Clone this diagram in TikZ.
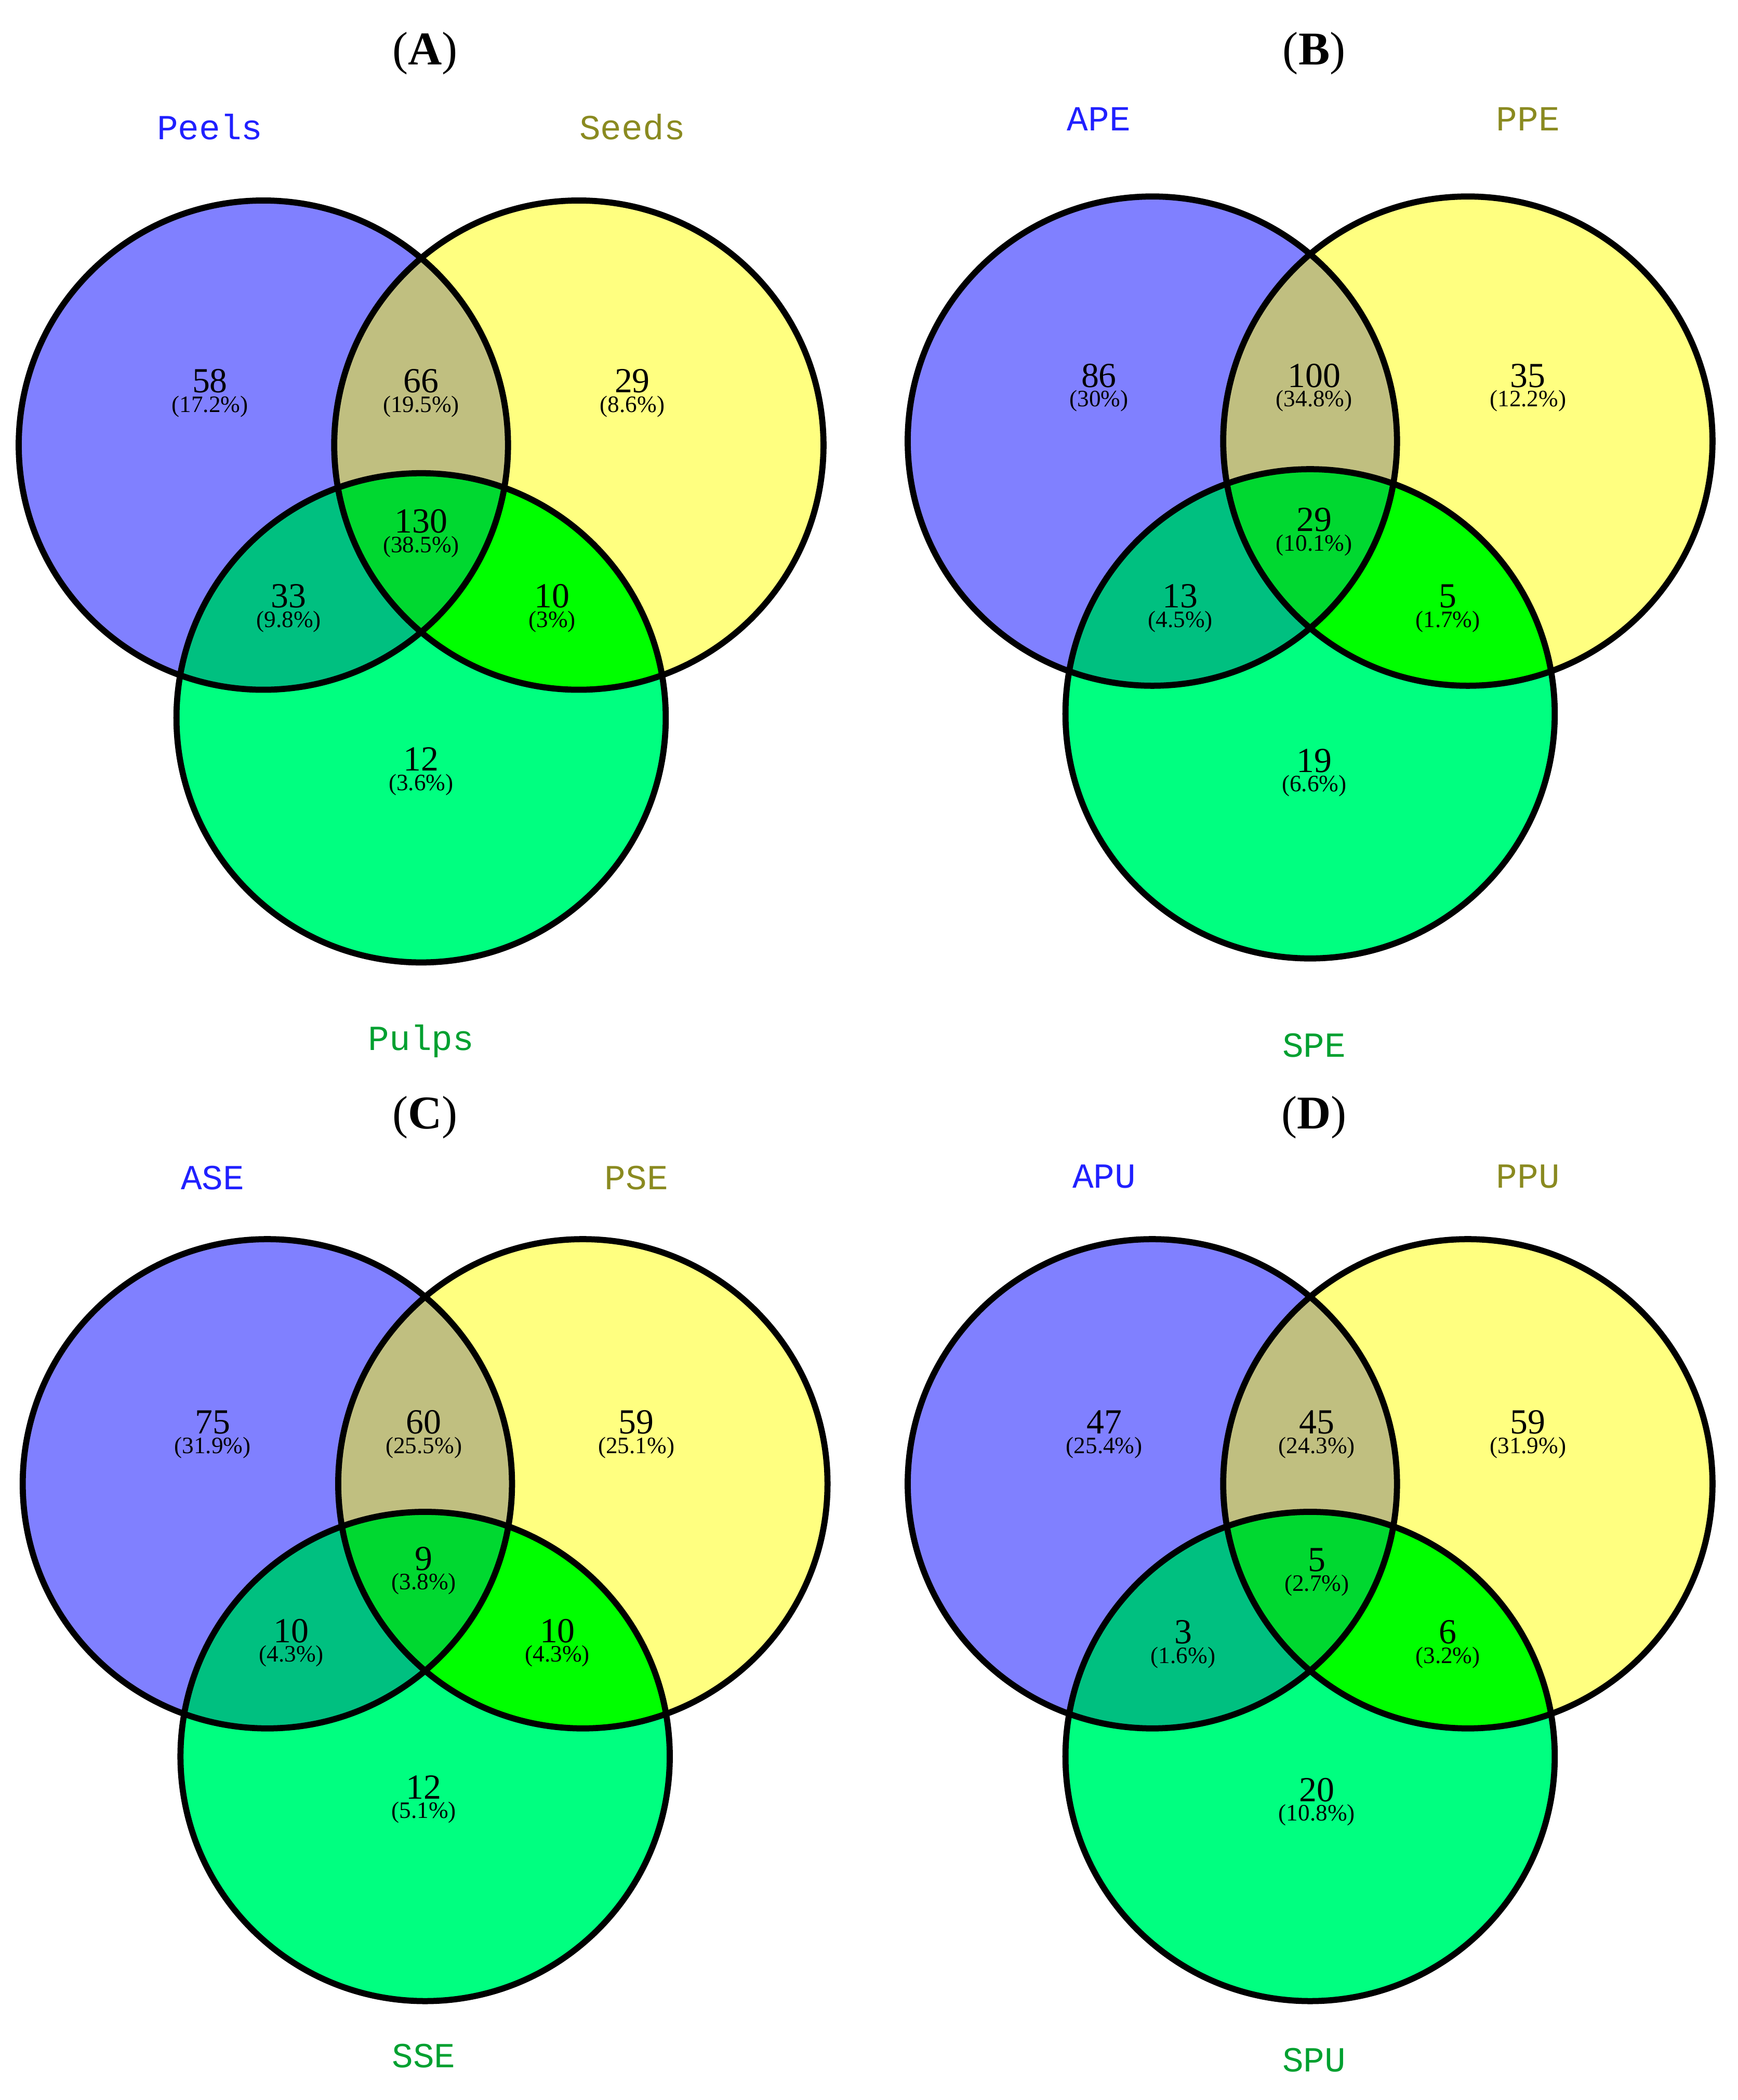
\documentclass[tikz,border=0pt]{standalone}
\usepackage{fontspec}
\setmainfont{Liberation Serif}
\newfontfamily\labfont{Liberation Mono}
\definecolor{cB}{HTML}{8080FF}
\definecolor{cY}{HTML}{FFFF80}
\definecolor{cG}{HTML}{00FF80}
\definecolor{cBY}{HTML}{C0BF80}
\definecolor{cBG}{HTML}{00C080}
\definecolor{cYG}{HTML}{00FF00}
\definecolor{cBYG}{HTML}{00D830}
\definecolor{tB}{HTML}{2020FF}
\definecolor{tY}{HTML}{8A8A20}
\definecolor{tG}{HTML}{00A030}
\tikzset{
  ring/.style={circle,draw=black,line width=1.3pt,minimum size=3.66cm,inner sep=0pt},
  num/.style={font=\fontsize{7.5}{8}\selectfont,inner sep=0pt},
  pct/.style={font=\fontsize{5}{6}\selectfont,inner sep=0pt},
  ttl/.style={font=\fontsize{10}{11}\selectfont,inner sep=0pt},
}
\newcommand{\vennpanel}[3]{%
 \begin{scope}[shift={(#1,#2)}]
  \fill[cB] (1.97,-3.33) circle (1.83);
  \fill[cY] (4.33,-3.33) circle (1.83);
  \fill[cG] (3.15,-5.37) circle (1.83);
  \begin{scope}\clip (1.97,-3.33) circle (1.83); \fill[cBY] (4.33,-3.33) circle (1.83); \fill[cBG] (3.15,-5.37) circle (1.83);\end{scope}
  \begin{scope}\clip (4.33,-3.33) circle (1.83); \fill[cYG] (3.15,-5.37) circle (1.83);\end{scope}
  \begin{scope}\clip (1.97,-3.33) circle (1.83); \clip (4.33,-3.33) circle (1.83); \fill[cBYG] (3.15,-5.37) circle (1.83);\end{scope}
  \node[ring] (#3b) at (1.97,-3.33) {};
  \node[ring] (#3y) at (4.33,-3.33) {};
  \node[ring] (#3g) at (3.15,-5.37) {};
 \end{scope}}
\newcommand{\vnum}[5]{\node[num] (#1) at (#2,#3) {#4}; \node[pct] (#1p) at (#2,#3-0.19) {(#5)};}
\begin{document}
\begin{tikzpicture}
\useasboundingbox (0,0) rectangle (13,-15.71);
\vennpanel{0}{0}{A}
\vennpanel{6.65}{0.03}{B}
\vennpanel{0.03}{-7.77}{C}
\vennpanel{6.65}{-7.77}{D}
% titles
\node[ttl] (tA) at (3.18,-0.40) {(\textbf{A})};
\node[ttl] (tB) at (9.83,-0.40) {(\textbf{B})};
\node[ttl] (tC) at (3.18,-8.36) {(\textbf{C})};
\node[ttl] (tD) at (9.83,-8.36) {(\textbf{D})};
% labels
\tikzset{lab/.style={font=\labfont\fontsize{7.5}{8}\selectfont,inner sep=0pt}}
\node[lab,tB] (lA1) at (1.57,-0.95) {Peels};
\node[lab,tY] (lA2) at (4.73,-0.95) {Seeds};
\node[lab,tG] (lA3) at (3.15,-7.79) {Pulps};
\node[lab,tB] (lB1) at (8.22,-0.89) {APE};
\node[lab,tY] (lB2) at (11.43,-0.89) {PPE};
\node[lab,tG] (lB3) at (9.83,-7.82) {SPE};
\node[lab,tB] (lC1) at (1.59,-8.81) {ASE};
\node[lab,tY] (lC2) at (4.76,-8.81) {PSE};
\node[lab,tG] (lC3) at (3.17,-15.38) {SSE};
\node[lab,tB] (lD1) at (8.26,-8.80) {APU};
\node[lab,tY] (lD2) at (11.43,-8.80) {PPU};
\node[lab,tG] (lD3) at (9.83,-15.41) {SPU};
% numbers A
\vnum{a1}{1.57}{-2.85}{58}{17.2\%}
\vnum{a2}{3.15}{-2.85}{66}{19.5\%}
\vnum{a3}{4.73}{-2.85}{29}{8.6\%}
\vnum{a4}{3.15}{-3.90}{130}{38.5\%}
\vnum{a5}{2.16}{-4.46}{33}{9.8\%}
\vnum{a6}{4.13}{-4.46}{10}{3\%}
\vnum{a7}{3.15}{-5.68}{12}{3.6\%}
% B
\vnum{b1}{8.22}{-2.81}{86}{30\%}
\vnum{b2}{9.83}{-2.81}{100}{34.8\%}
\vnum{b3}{11.43}{-2.81}{35}{12.2\%}
\vnum{b4}{9.83}{-3.89}{29}{10.1\%}
\vnum{b5}{8.83}{-4.46}{13}{4.5\%}
\vnum{b6}{10.83}{-4.46}{5}{1.7\%}
\vnum{b7}{9.83}{-5.69}{19}{6.6\%}
% C
\vnum{c1}{1.59}{-10.64}{75}{31.9\%}
\vnum{c2}{3.17}{-10.64}{60}{25.5\%}
\vnum{c3}{4.76}{-10.64}{59}{25.1\%}
\vnum{c4}{3.17}{-11.66}{9}{3.8\%}
\vnum{c5}{2.18}{-12.20}{10}{4.3\%}
\vnum{c6}{4.17}{-12.20}{10}{4.3\%}
\vnum{c7}{3.17}{-13.37}{12}{5.1\%}
% D
\vnum{d1}{8.26}{-10.64}{47}{25.4\%}
\vnum{d2}{9.85}{-10.64}{45}{24.3\%}
\vnum{d3}{11.43}{-10.64}{59}{31.9\%}
\vnum{d4}{9.85}{-11.67}{5}{2.7\%}
\vnum{d5}{8.85}{-12.21}{3}{1.6\%}
\vnum{d6}{10.83}{-12.21}{6}{3.2\%}
\vnum{d7}{9.85}{-13.39}{20}{10.8\%}
\end{tikzpicture}
\end{document}
